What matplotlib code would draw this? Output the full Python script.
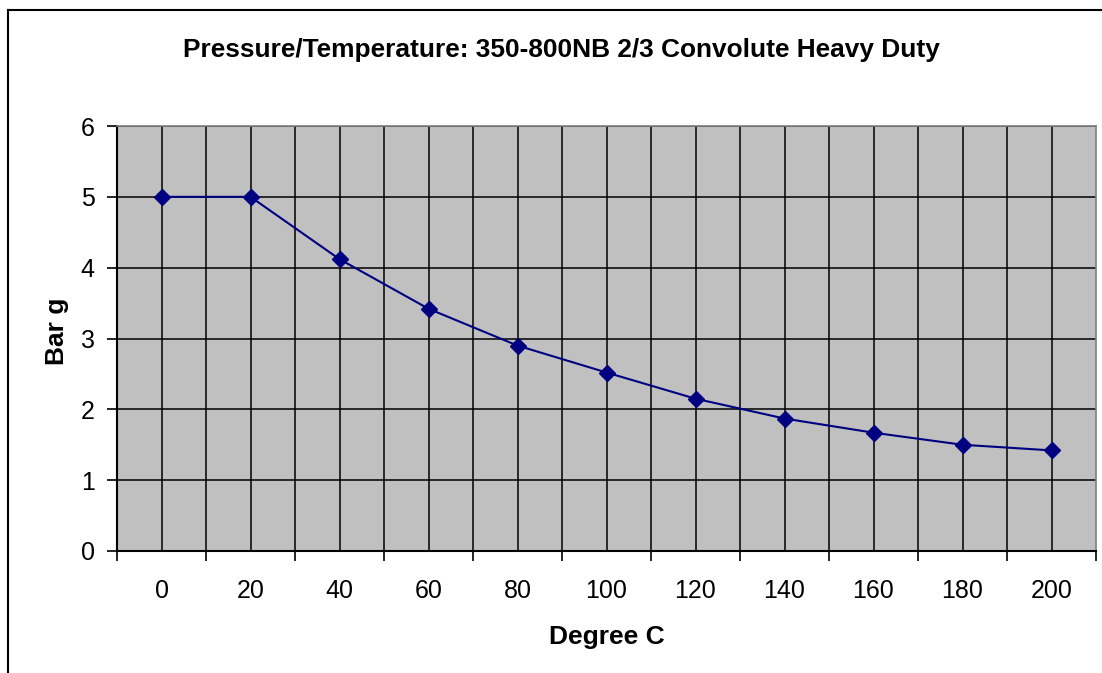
import numpy as np
import matplotlib.pyplot as plt
from matplotlib.lines import Line2D

plt.rcParams['font.family'] = ['Liberation Sans', 'DejaVu Sans']

# data
temps = [0, 20, 40, 60, 80, 100, 120, 140, 160, 180, 200]
pressure = [5.0, 5.0, 4.12, 3.42, 2.9, 2.52, 2.15, 1.87, 1.67, 1.5, 1.42]
y_ticks = [0, 1, 2, 3, 4, 5, 6]

W, H = 1102, 673
fig = plt.figure(figsize=(W / 100, H / 100), dpi=100)
fig.patch.set_facecolor('white')

# chart-area border (cropped on right and bottom)
fig.add_artist(Line2D([8 / W, 8 / W], [0, 1 - 10 / H], color='black', lw=1.5))
fig.add_artist(Line2D([8 / W, 1], [1 - 10 / H, 1 - 10 / H], color='black', lw=1.5))

ax = fig.add_axes([117 / W, 1 - 551 / H, (1096 - 117) / W, (551 - 126) / H])
ax.set_facecolor('#C0C0C0')

n = len(temps)
pos = np.arange(n)
ax.set_xlim(-0.5, n - 0.5)
ax.set_ylim(0, 6)

# gridlines: horizontal at each unit, vertical at category centres and boundaries
for y in y_ticks[1:]:
    ax.axhline(y, color='black', lw=1.1, zorder=1)
for x in np.arange(-0.5, n, 0.5)[1:-1]:
    ax.axvline(x, color='black', lw=1.1, zorder=1)

ax.plot(pos, pressure, color='#000080', lw=1.5, marker='D', markersize=8,
        markerfacecolor='#000080', markeredgecolor='#000080', zorder=3)

# x axis: tick marks on boundaries, labels on centres
ax.set_xticks(np.arange(-0.5, n, 1.0))
ax.set_xticklabels([])
ax.set_xticks(pos, minor=True)
ax.set_xticklabels([str(t) for t in temps], minor=True)
ax.tick_params(axis='x', which='major', direction='out', length=7, width=1.2, color='black')
ax.tick_params(axis='x', which='minor', length=0, pad=20, labelsize=18)

ax.set_yticks(y_ticks)
ax.set_yticklabels([str(v) for v in y_ticks])
ax.tick_params(axis='y', direction='out', length=7, width=1.2, pad=9, labelsize=18)

for s in ('left', 'bottom'):
    ax.spines[s].set_color('black')
    ax.spines[s].set_linewidth(1.5)
for s in ('top', 'right'):
    ax.spines[s].set_color('#808080')
    ax.spines[s].set_linewidth(1.2)

fig.text(561 / W, 1 - 50 / H, 'Pressure/Temperature: 350-800NB 2/3 Convolute Heavy Duty',
         ha='center', va='center', fontsize=18.9, fontweight='bold')
fig.text(607 / W, 1 - 637 / H, 'Degree C', ha='center', va='center',
         fontsize=19, fontweight='bold')
fig.text(57 / W, 1 - 331 / H, 'Bar g', ha='center', va='center', rotation=90,
         fontsize=19, fontweight='bold')

fig.savefig('out.png', dpi=100)
